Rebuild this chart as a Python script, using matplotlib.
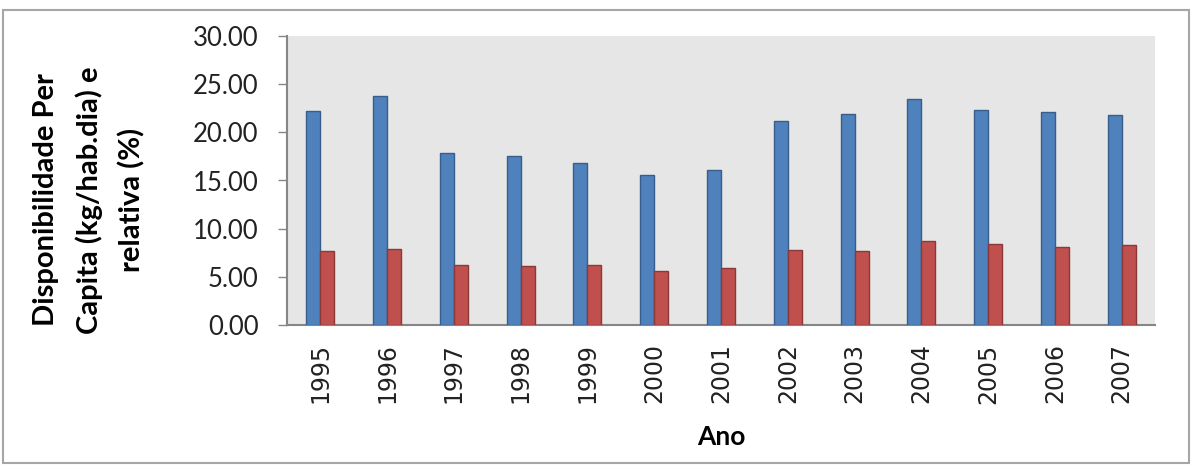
import matplotlib
matplotlib.use("Agg")
import matplotlib.pyplot as plt
import numpy as np
from matplotlib.patches import Rectangle

years = ["1995", "1996", "1997", "1998", "1999", "2000", "2001",
         "2002", "2003", "2004", "2005", "2006", "2007"]
per_capita = [22.2, 23.8, 17.8, 17.5, 16.8, 15.6, 16.1,
              21.2, 21.9, 23.4, 22.3, 22.1, 21.8]
relativa = [7.7, 7.9, 6.25, 6.15, 6.2, 5.67, 5.95,
            7.8, 7.7, 8.75, 8.4, 8.07, 8.35]
yticks = [0, 5, 10, 15, 20, 25, 30]
ylabel_lines = ["Disponibilidade Per", "Capita (kg/hab.dia) e", "relativa (%)"]

W, H = 1191, 465
fig = plt.figure(figsize=(W / 100, H / 100), dpi=100)
fig.patch.set_facecolor("white")

# outer frame
fig.patches.append(Rectangle((3 / W, 2 / H), 1186 / W, 453 / H, transform=fig.transFigure,
                             fill=False, edgecolor="#a6a6a6", linewidth=1.5))

ax = fig.add_axes([287 / W, 1 - 325.3 / H, (1155 - 287) / W, (325.3 - 35.7) / H])
ax.set_facecolor("#e6e6e6")

x = np.arange(len(years))
bw = 0.21
ax.bar(x - bw / 2, per_capita, width=bw, color="#4f81bd", edgecolor="#385d8a", linewidth=1.0, zorder=3)
ax.bar(x + bw / 2, relativa, width=bw, color="#c0504d", edgecolor="#8c3836", linewidth=1.0, zorder=3)

ax.set_xlim(-0.5, len(years) - 0.5)
ax.set_ylim(0, 30)
ax.set_yticks(yticks)
ax.set_yticklabels([f"{v:.2f}" for v in yticks], fontfamily="Lato", fontsize=18.5, color="#222222")
ax.set_xticks(x)
ax.set_xticklabels(years, rotation=90, fontfamily="DejaVu Sans", fontsize=17, color="#222222")
ax.tick_params(axis="y", length=6.5, width=1.0, color="#868686", pad=14)
ax.tick_params(axis="x", length=0, pad=13)

for s in ["top", "right"]:
    ax.spines[s].set_visible(False)
for s in ["left", "bottom"]:
    ax.spines[s].set_color("#868686")
    ax.spines[s].set_linewidth(1.5)

for xp, line in zip([46, 89, 132], ylabel_lines):
    fig.text(xp / W, 1 - 200 / H, line, rotation=90, ha="center", va="center",
             fontfamily="Lato", fontweight="bold", fontsize=21)
fig.text(721 / W, 1 - 437 / H, "Ano", ha="center", va="center",
         fontfamily="Lato", fontweight="bold", fontsize=19)

fig.savefig("out.png", dpi=100)
